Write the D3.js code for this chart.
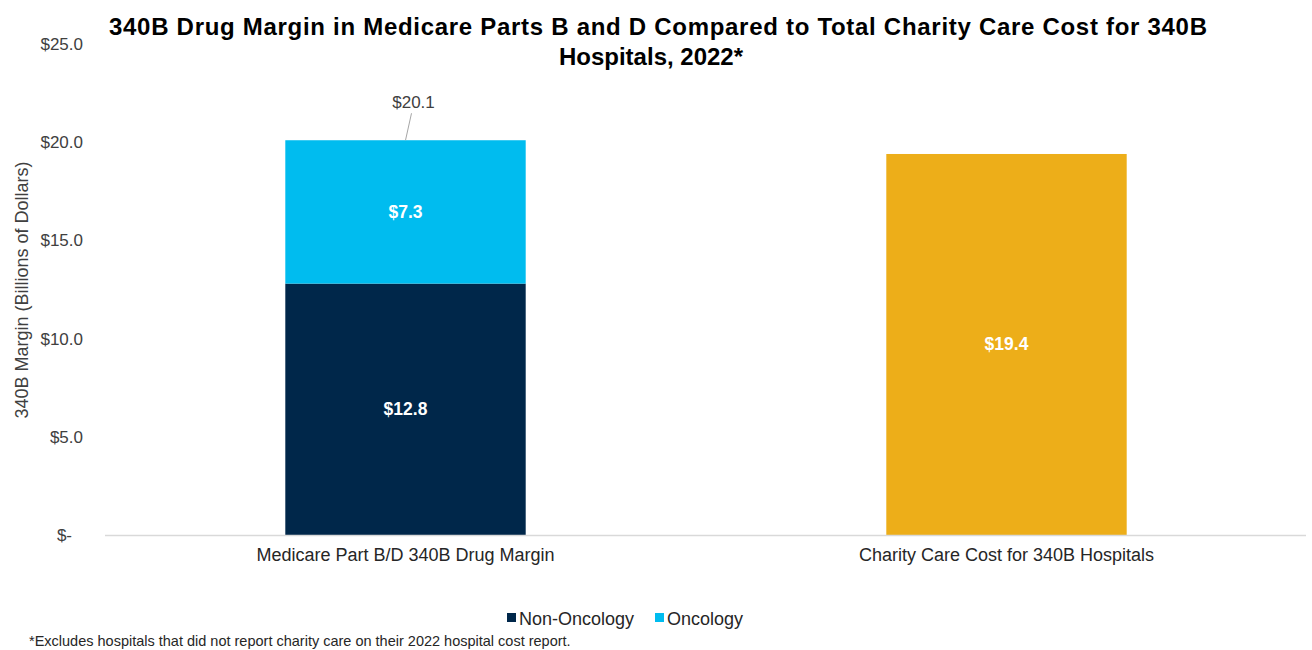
<!DOCTYPE html>
<html>
<head>
<meta charset="utf-8">
<script src="https://cdn.jsdelivr.net/npm/d3@7"></script>
<style>
  body { margin: 0; background: #fff; }
  svg text { font-family: "Liberation Sans", Arial, sans-serif; }
</style>
</head>
<body>
<div id="chart"></div>
<script>
// --- data
const categories = ["Medicare Part B/D 340B Drug Margin", "Charity Care Cost for 340B Hospitals"];
const nonOncology = [12.8, 0];
const oncology = [7.3, 0];
const charityCare = [0, 19.4];
const yTicks = [0, 5, 10, 15, 20, 25];
const seriesNames = ["Non-Oncology", "Oncology"];

const width = 1312, height = 650;
const colors = { nonOnc: "#00274A", onc: "#00BCEF", charity: "#EDAE19" };

const svg = d3.select("#chart").append("svg")
  .attr("width", width)
  .attr("height", height);

const x = d3.scaleBand()
  .domain(categories)
  .range([105, 1307])
  .paddingInner(0.6)
  .paddingOuter(0.3);

const y = d3.scaleLinear()
  .domain([0, 25])
  .range([535, 44]);

// title
const title = svg.append("text")
  .attr("text-anchor", "middle")
  .style("font-size", "24px")
  .style("font-weight", "bold")
  .style("fill", "#000");
title.append("tspan").attr("x", 658).attr("y", 35)
  .attr("textLength", 1098).attr("lengthAdjust", "spacing")
  .text("340B Drug Margin in Medicare Parts B and D Compared to Total Charity Care Cost for 340B");
title.append("tspan").attr("x", 651).attr("y", 65)
  .text("Hospitals, 2022*");

// y axis (labels only)
const yAxis = d3.axisLeft(y)
  .tickValues(yTicks)
  .tickSize(0)
  .tickPadding(0)
  .tickFormat(d => d === 0 ? "$-" : "$" + d.toFixed(1));
const gy = svg.append("g").attr("transform", "translate(83,0)").call(yAxis);
gy.select(".domain").remove();
gy.selectAll("text")
  .style("font-size", "17px")
  .style("fill", "#404040")
  .style("font-family", "Liberation Sans, Arial, sans-serif");
// accounting-style zero: "$-" sits left of the number column
gy.selectAll(".tick text").filter(d => d === 0).attr("dx", -11);

svg.append("text")
  .attr("transform", "translate(28,290) rotate(-90)")
  .attr("text-anchor", "middle")
  .style("font-size", "18px")
  .style("fill", "#404040")
  .text("340B Margin (Billions of Dollars)");

// stacked bars
const rows = categories.map((c, i) => ({ cat: c, nonOnc: nonOncology[i], onc: oncology[i], charity: charityCare[i] }));

const labelStyle = sel => sel
  .attr("text-anchor", "middle")
  .style("font-size", "17.5px").style("font-weight", "bold").style("fill", "#fff");

const bars = svg.append("g");
rows.forEach(r => {
  const cx = x(r.cat) + x.bandwidth() / 2;
  if (r.nonOnc > 0) {
    bars.append("rect")
      .attr("x", x(r.cat)).attr("width", x.bandwidth())
      .attr("y", y(r.nonOnc)).attr("height", y(0) - y(r.nonOnc))
      .attr("fill", colors.nonOnc);
    bars.append("rect")
      .attr("x", x(r.cat)).attr("width", x.bandwidth())
      .attr("y", y(r.nonOnc + r.onc)).attr("height", y(r.nonOnc) - y(r.nonOnc + r.onc))
      .attr("fill", colors.onc);
    // segment labels
    bars.append("text").call(labelStyle)
      .attr("x", cx).attr("y", y(r.nonOnc / 2) + 6)
      .text("$" + r.nonOnc.toFixed(1));
    bars.append("text").call(labelStyle)
      .attr("x", cx).attr("y", y(r.nonOnc + r.onc / 2) + 6)
      .text("$" + r.onc.toFixed(1));
    // total label with leader line
    const total = r.nonOnc + r.onc;
    bars.append("line")
      .attr("x1", cx + 6).attr("y1", y(total) - 27)
      .attr("x2", cx).attr("y2", y(total))
      .attr("stroke", "#a6a6a6").attr("stroke-width", 1);
    bars.append("text")
      .attr("x", cx + 8).attr("y", y(total) - 32)
      .attr("text-anchor", "middle")
      .style("font-size", "17px").style("fill", "#404040")
      .text("$" + total.toFixed(1));
  }
  if (r.charity > 0) {
    bars.append("rect")
      .attr("x", x(r.cat)).attr("width", x.bandwidth())
      .attr("y", y(r.charity)).attr("height", y(0) - y(r.charity))
      .attr("fill", colors.charity);
    bars.append("text").call(labelStyle)
      .attr("x", cx).attr("y", y(r.charity / 2) + 6)
      .text("$" + r.charity.toFixed(1));
  }
});

// baseline
svg.append("line")
  .attr("x1", 105).attr("x2", 1306)
  .attr("y1", y(0) + 0.5).attr("y2", y(0) + 0.5)
  .attr("stroke", "#d9d9d9").attr("stroke-width", 1.5);

// category axis
const xAxis = d3.axisBottom(x).tickSize(0).tickPadding(13);
const gx = svg.append("g").attr("transform", `translate(0,${y(0)})`).call(xAxis);
gx.select(".domain").remove();
gx.selectAll("text")
  .style("font-size", "18px")
  .style("fill", "#262626")
  .style("font-family", "Liberation Sans, Arial, sans-serif");

// legend
const legend = svg.append("g").attr("transform", "translate(507,618)");
const legendX = [0, 148];
const legendColors = [colors.nonOnc, colors.onc];
seriesNames.forEach((name, i) => {
  const g = legend.append("g").attr("transform", `translate(${legendX[i]},0)`);
  g.append("rect").attr("x", 0).attr("y", -5).attr("width", 9).attr("height", 9).attr("fill", legendColors[i]);
  g.append("text").attr("x", 12).attr("y", 6.5)
    .style("font-size", "18px").style("fill", "#262626")
    .text(name);
});

// footnote
svg.append("text")
  .attr("x", 29).attr("y", 646)
  .style("font-size", "14.5px")
  .style("fill", "#262626")
  .text("*Excludes hospitals that did not report charity care on their 2022 hospital cost report.");
</script>
</body>
</html>
